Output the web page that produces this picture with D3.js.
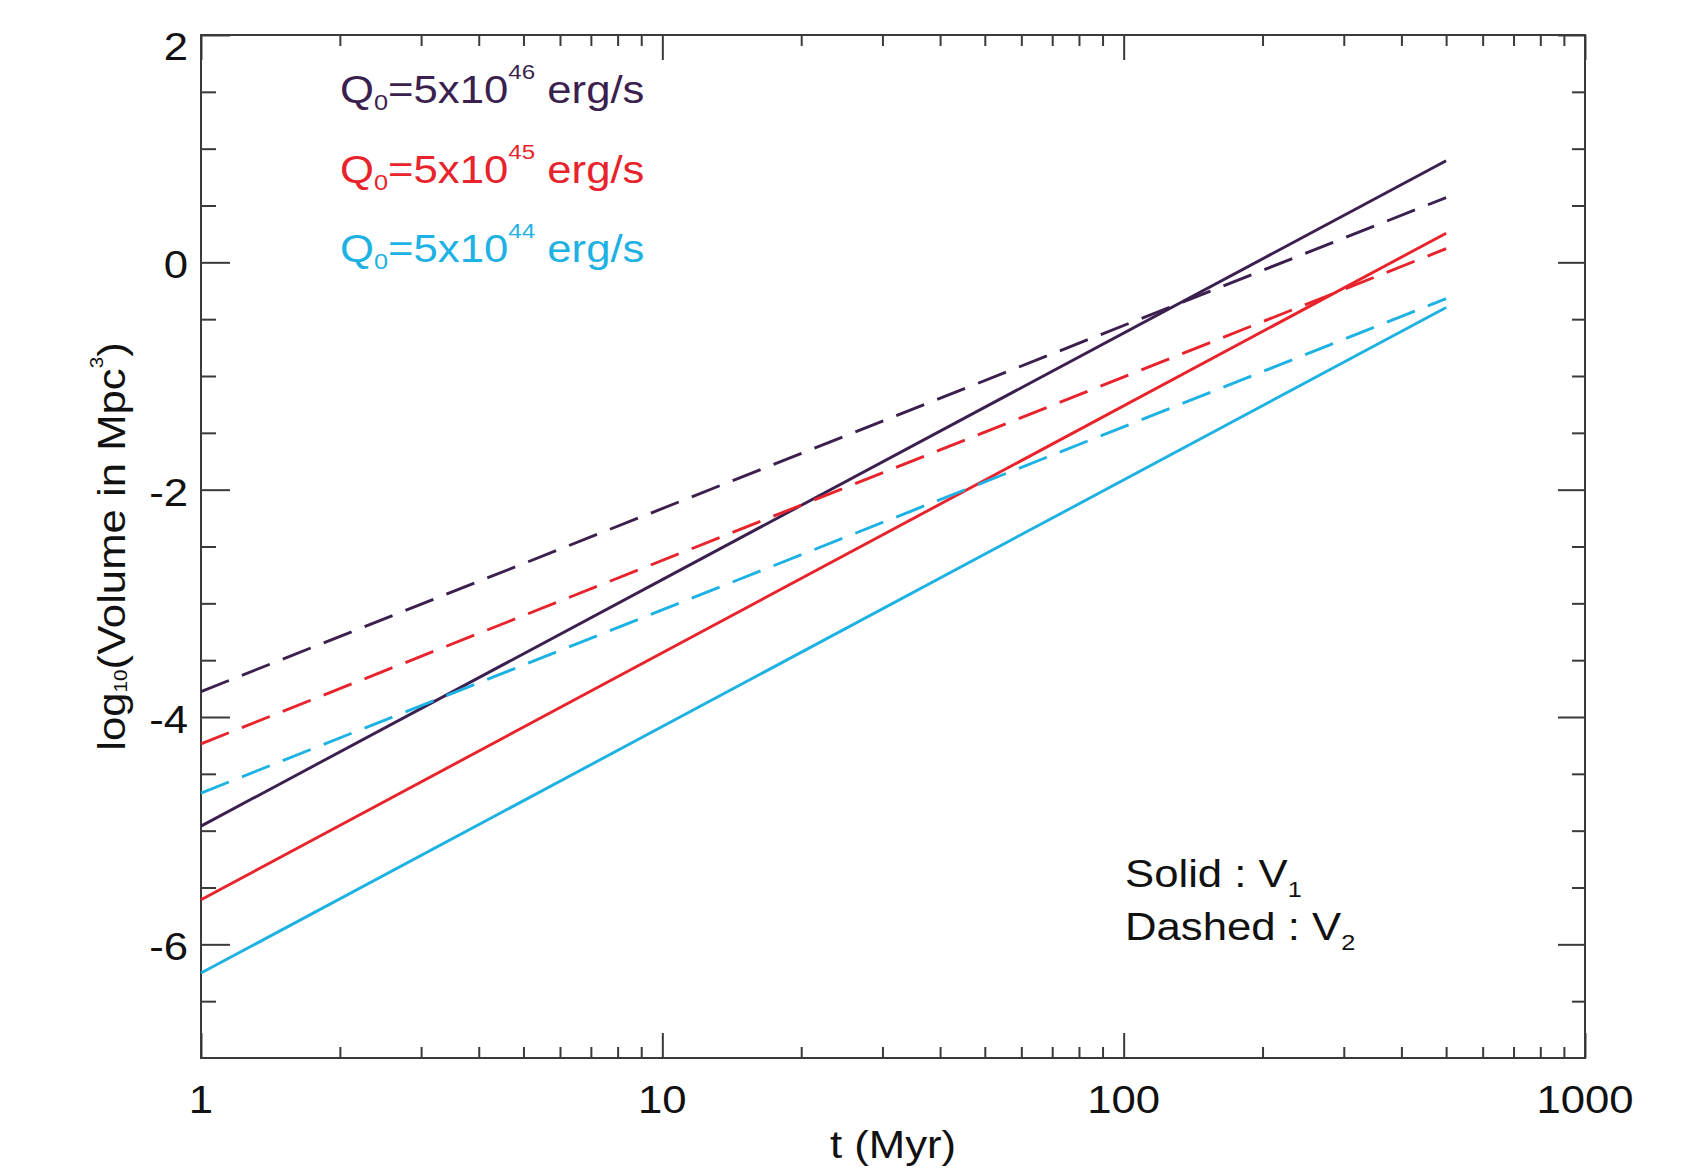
<!DOCTYPE html>
<html>
<head>
<meta charset="utf-8">
<script src="https://cdn.jsdelivr.net/npm/d3@7"></script>
<style>
  html, body { margin: 0; padding: 0; background: #fff; }
  text { font-family: "Liberation Sans", Arial, Helvetica, sans-serif; }
</style>
</head>
<body>
<script>
// ---- data ----
const tMyr = [1, 500];
const q46Solid  = [-4.96, 0.894];
const q46Dashed = [-3.776, 0.57];
const q45Solid  = [-5.608, 0.256];
const q45Dashed = [-4.236, 0.12];
const q44Solid  = [-6.253, -0.398];
const q44Dashed = [-4.669, -0.32];

const seriesExp    = ["46", "45", "44"];
const seriesColors = ["#3b1f4f", "#e8232b", "#1db2e3"];

const xMajorTicks = [1, 10, 100, 1000];
const xMinorTicks = [2,3,4,5,6,7,8,9, 20,30,40,50,60,70,80,90, 200,300,400,500,600,700,800,900];
const yMajorTicks = [-6, -4, -2, 0, 2];
const yMinorTicks = [-6.5,-5.5,-5,-4.5,-3.5,-3,-2.5,-1.5,-1,-0.5,0.5,1,1.5];

const series = [
  {vals: q46Solid,  color: seriesColors[0], dashed: false},
  {vals: q46Dashed, color: seriesColors[0], dashed: true},
  {vals: q45Solid,  color: seriesColors[1], dashed: false},
  {vals: q45Dashed, color: seriesColors[1], dashed: true},
  {vals: q44Solid,  color: seriesColors[2], dashed: false},
  {vals: q44Dashed, color: seriesColors[2], dashed: true}
];

// ---- layout ----
const W = 1681, H = 1174;
const L = 201, R = 1585, T = 35, B = 1058;
const SX = 1.15; // horizontal stretch of the original typography
const axisColor = "#3a3a3a";

const svg = d3.select("body").append("svg").attr("width", W).attr("height", H);

const x = d3.scaleLog().domain([1, 1000]).range([L, R]);
const y = d3.scaleLinear().domain([-7, 2]).range([B, T]);

// ---- ticks (inward) ----
function styleAxis(g) {
  g.select(".domain").remove();
  g.selectAll("line").attr("stroke", axisColor).attr("stroke-width", 2);
}
svg.append("g").attr("transform", `translate(0,${B})`)
  .call(d3.axisBottom(x).tickValues(xMinorTicks).tickSize(-11).tickFormat("")).call(styleAxis);
svg.append("g").attr("transform", `translate(0,${B})`)
  .call(d3.axisBottom(x).tickValues(xMajorTicks).tickSize(-25).tickFormat("")).call(styleAxis);
svg.append("g").attr("transform", `translate(0,${T})`)
  .call(d3.axisTop(x).tickValues(xMinorTicks).tickSize(-11).tickFormat("")).call(styleAxis);
svg.append("g").attr("transform", `translate(0,${T})`)
  .call(d3.axisTop(x).tickValues(xMajorTicks).tickSize(-25).tickFormat("")).call(styleAxis);
svg.append("g").attr("transform", `translate(${L},0)`)
  .call(d3.axisLeft(y).tickValues(yMinorTicks).tickSize(-15).tickFormat("")).call(styleAxis);
svg.append("g").attr("transform", `translate(${L},0)`)
  .call(d3.axisLeft(y).tickValues(yMajorTicks).tickSize(-29).tickFormat("")).call(styleAxis);
svg.append("g").attr("transform", `translate(${R},0)`)
  .call(d3.axisRight(y).tickValues(yMinorTicks).tickSize(-13).tickFormat("")).call(styleAxis);
svg.append("g").attr("transform", `translate(${R},0)`)
  .call(d3.axisRight(y).tickValues(yMajorTicks).tickSize(-27).tickFormat("")).call(styleAxis);

// frame
svg.append("rect").attr("x", L).attr("y", T).attr("width", R - L).attr("height", B - T)
  .attr("fill", "none").attr("stroke", axisColor).attr("stroke-width", 2);

// ---- tick labels ----
svg.append("g").selectAll("text").data(xMajorTicks).join("text")
  .attr("transform", d => `translate(${x(d)},${B + 55}) scale(${SX},1)`)
  .attr("text-anchor", "middle").attr("font-size", 38).attr("fill", "#111")
  .text(d => String(d));

svg.append("g").selectAll("text").data(yMajorTicks).join("text")
  .attr("transform", d => `translate(${L - 13},${Math.max(y(d) + 16, T + 25)}) scale(${SX},1)`)
  .attr("text-anchor", "end").attr("font-size", 38).attr("fill", "#111")
  .text(d => String(d).replace("\u2212", "-"));

// ---- axis titles ----
svg.append("text")
  .attr("transform", `translate(${(L + R) / 2},${B + 100}) scale(${SX},1)`)
  .attr("text-anchor", "middle").attr("font-size", 38).attr("fill", "#111")
  .text("t (Myr)");

const yt = svg.append("text")
  .attr("transform", `translate(125,${(T + B) / 2}) rotate(-90) scale(${SX},1)`)
  .attr("text-anchor", "middle").attr("font-size", 38).attr("fill", "#111");
yt.append("tspan").text("log");
yt.append("tspan").attr("font-size", 18).attr("dy", 2).text("10");
yt.append("tspan").attr("dy", -2).text("(Volume in Mpc");
yt.append("tspan").attr("font-size", 18).attr("dy", -22).text("3");
yt.append("tspan").attr("dy", 22).text(")");

// ---- lines ----
const line = d3.line().x(d => x(d.t)).y(d => y(d.v));
svg.append("g").selectAll("path").data(series).join("path")
  .attr("d", s => line(tMyr.map((t, i) => ({t: t, v: s.vals[i]}))))
  .attr("fill", "none")
  .attr("stroke", s => s.color)
  .attr("stroke-width", 2.9)
  .attr("stroke-dasharray", s => s.dashed ? "30,14" : null);

// ---- legend ----
const lg = svg.append("g").selectAll("text").data(seriesExp).join("text")
  .attr("transform", (d, i) => `translate(340,${103 + i * 79.5}) scale(${SX},1)`)
  .attr("font-size", 38)
  .attr("fill", (d, i) => seriesColors[i]);
lg.append("tspan").text("Q");
lg.append("tspan").attr("font-size", 22).attr("dy", 7).text("0");
lg.append("tspan").attr("dy", -7).text("=5x10");
lg.append("tspan").attr("font-size", 21).attr("dy", -24).text(d => d);
lg.append("tspan").attr("dy", 24).text("\u00a0erg/s");

// ---- line style note ----
const notes = [["Solid : V", "1"], ["Dashed : V", "2"]];
const nt = svg.append("g").selectAll("text").data(notes).join("text")
  .attr("transform", (d, i) => `translate(1125,${887 + i * 53}) scale(${SX},1)`)
  .attr("font-size", 38).attr("fill", "#111");
nt.append("tspan").text(d => d[0]);
nt.append("tspan").attr("font-size", 22).attr("dy", 10).text(d => d[1]);
</script>
</body>
</html>
